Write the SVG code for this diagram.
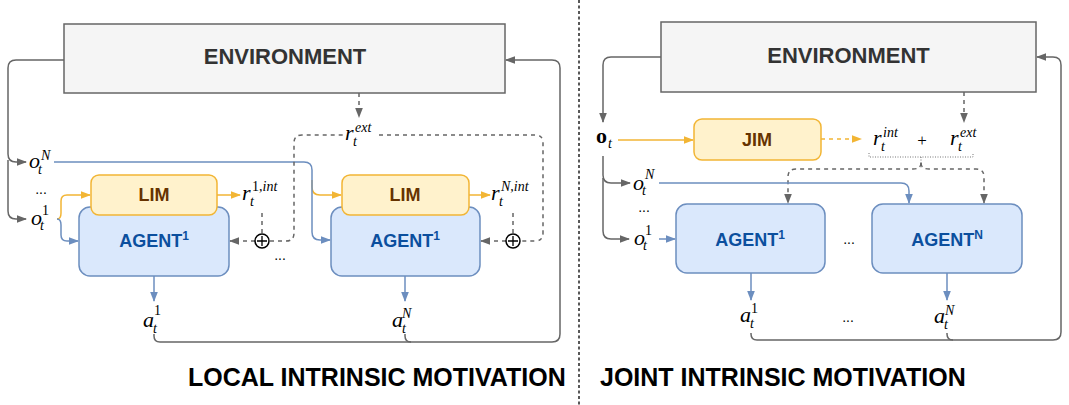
<svg xmlns="http://www.w3.org/2000/svg" width="1069" height="405" viewBox="0 0 1069 405">
<style>
.env{fill:#f5f5f5;stroke:#666;stroke-width:1.5}
.lim{fill:#fff2cc;stroke:#f2b534;stroke-width:1.5}
.ag{fill:#dae8fc;stroke:#6c8ebf;stroke-width:1.5}
.envt{font-family:"Liberation Sans",Arial,sans-serif;font-weight:bold;font-size:22px;fill:#333;text-anchor:middle}
.limt{font-family:"Liberation Sans",Arial,sans-serif;font-weight:bold;font-size:18px;fill:#663300;text-anchor:middle}
.agt{font-family:"Liberation Sans",Arial,sans-serif;font-weight:bold;font-size:18px;fill:#0b4f9e;text-anchor:middle}
.title{font-family:"Liberation Sans",Arial,sans-serif;font-weight:bold;font-size:25px;fill:#000}
.mi{font-family:"Liberation Serif","Times New Roman",serif;font-style:italic;font-size:22px;fill:#000}
.ms{font-family:"Liberation Serif","Times New Roman",serif;font-style:italic;font-size:14px;fill:#000}
.mu{font-family:"Liberation Serif","Times New Roman",serif;font-size:14px;fill:#000}
.dots{font-family:"Liberation Sans",Arial,sans-serif;font-size:14px;fill:#000;text-anchor:middle}
.g{fill:none;stroke:#666;stroke-width:1.5}
.gd{fill:none;stroke:#666;stroke-width:1.5;stroke-dasharray:4 4}
.b{fill:none;stroke:#6c8ebf;stroke-width:1.5}
.o{fill:none;stroke:#f2b534;stroke-width:1.5}
.od{fill:none;stroke:#f2b534;stroke-width:1.5;stroke-dasharray:4 4}
.dot{fill:none;stroke:#777;stroke-width:1;stroke-dasharray:1 1.5}
</style>
<defs>
<marker id="mg" viewBox="0 0 10 10" refX="9" refY="5" markerWidth="10" markerHeight="10" markerUnits="userSpaceOnUse" orient="auto"><path d="M0,1.2L10,5L0,8.8z" fill="#666"/></marker>
<marker id="mb" viewBox="0 0 10 10" refX="9" refY="5" markerWidth="10" markerHeight="10" markerUnits="userSpaceOnUse" orient="auto"><path d="M0,1.2L10,5L0,8.8z" fill="#6c8ebf"/></marker>
<marker id="mo" viewBox="0 0 10 10" refX="9" refY="5" markerWidth="10" markerHeight="10" markerUnits="userSpaceOnUse" orient="auto"><path d="M0,1.2L10,5L0,8.8z" fill="#f2b534"/></marker>
</defs>
<rect width="1069" height="405" fill="#fff"/>

<g id="connectors">
<!-- left panel -->
<path class="g" d="M64,60 H16 Q8,60 8,68 V154 Q8,162 16,162 H26" marker-end="url(#mg)"/>
<path class="g" d="M8,160 V211 Q8,219 16,219 H26" marker-end="url(#mg)"/>
<path class="o" d="M312,180 V187 Q312,195 320,195 H341" marker-end="url(#mo)"/>
<path class="b" d="M54,162 H304 Q312,162 312,170 V232 Q312,240 320,240 H330" marker-end="url(#mb)"/>
<path class="o" d="M57,219 Q61,219 61,213 V201 Q61,195 67,195 H90" marker-end="url(#mo)"/>
<path class="b" d="M57,219 Q61,219 61,225 V235 Q61,241 67,241 H78" marker-end="url(#mb)"/>
<path class="o" d="M217,195 H240" marker-end="url(#mo)"/>
<path class="o" d="M469,195 H490" marker-end="url(#mo)"/>
<path class="b" d="M154,276 V301" marker-end="url(#mb)"/>
<path class="b" d="M405,276 V301" marker-end="url(#mb)"/>
<path class="g" d="M154,334 V336 Q154,342 160,342 H552 Q560,342 560,334 V68 Q560,60 552,60 H506" marker-end="url(#mg)"/>
<path class="g" d="M405,334 V336 Q405,342 411,342"/>
<path class="gd" d="M359,93 V117" marker-end="url(#mg)"/>
<path class="gd" d="M262,213 V234"/>
<path class="gd" d="M513,213 V234"/>
<path class="gd" d="M255,241 H230" marker-end="url(#mg)"/>
<path class="gd" d="M506,241 H481" marker-end="url(#mg)"/>
<path class="gd" d="M270,241 H286 Q294,241 294,233 V143 Q294,135 302,135 H343"/>
<path class="gd" d="M379,135 H535 Q543,135 543,143 V233 Q543,241 535,241 H520"/>
<!-- right panel -->
<path class="g" d="M661,57 H611 Q603,57 603,65 V122" marker-end="url(#mg)"/>
<path class="g" d="M603,156 V175 Q603,183 611,183 H630" marker-end="url(#mg)"/>
<path class="g" d="M603,178 V231 Q603,239 611,239 H629" marker-end="url(#mg)"/>
<path class="o" d="M618,140 H693" marker-end="url(#mo)"/>
<path class="od" d="M821,139 H861" marker-end="url(#mo)"/>
<path class="gd" d="M964,92 V122" marker-end="url(#mg)"/>
<path class="dot" d="M869,153 V157 H973 V153 M921,157 V163"/>
<path class="gd" d="M921,163 Q921,169 913,169 H796 Q788,169 788,177 V203" marker-end="url(#mg)"/>
<path class="gd" d="M921,163 Q921,169 929,169 H976 Q984,169 984,177 V203" marker-end="url(#mg)"/>
<path class="b" d="M659,183 H901 Q909,183 909,191 V203" marker-end="url(#mb)"/>
<path class="b" d="M659,239 H675" marker-end="url(#mb)"/>
<path class="b" d="M751,273 V300" marker-end="url(#mb)"/>
<path class="b" d="M947,273 V300" marker-end="url(#mb)"/>
<path class="g" d="M751,333 V334 Q751,340 757,340 H1053 Q1061,340 1061,332 V65 Q1061,57 1053,57 H1037" marker-end="url(#mg)"/>
<path class="g" d="M947,333 V334 Q947,340 953,340"/>
</g>

<!-- divider -->
<path d="M579,0 V405" stroke="#222" stroke-width="1.5" stroke-dasharray="3 2.5" fill="none"/>

<!-- LEFT PANEL NODES -->
<g id="env-left"><rect class="env" x="64" y="24" width="441" height="69"/><text class="envt" x="285" y="64">ENVIRONMENT</text></g>
<g id="agent1-left"><rect class="ag" x="79" y="207" width="150" height="69" rx="11"/><text class="agt" x="154" y="247">AGENT<tspan font-size="12" dy="-7">1</tspan></text></g>
<g id="lim1"><rect class="lim" x="91" y="175" width="126" height="40" rx="8"/><text class="limt" x="154" y="201">LIM</text></g>
<g id="agent2-left"><rect class="ag" x="331" y="207" width="149" height="69" rx="11"/><text class="agt" x="405" y="247">AGENT<tspan font-size="12" dy="-7">1</tspan></text></g>
<g id="lim2"><rect class="lim" x="342" y="175" width="127" height="40" rx="8"/><text class="limt" x="405" y="201">LIM</text></g>
<g id="sum1"><circle cx="262" cy="241" r="7" fill="#fff" stroke="#000" stroke-width="1.5"/><path d="M257,241H267M262,236V246" stroke="#000" stroke-width="1.3"/></g>
<g id="sum2"><circle cx="513" cy="241" r="7" fill="#fff" stroke="#000" stroke-width="1.5"/><path d="M508,241H518M513,236V246" stroke="#000" stroke-width="1.3"/></g>

<g id="labels-left">
<text class="mi" x="29" y="168">o</text><text class="ms" x="38" y="174">t</text><text class="ms" x="41" y="160">N</text>
<text class="dots" x="41" y="194">...</text>
<text class="mi" x="31" y="225">o</text><text class="ms" x="40" y="230">t</text><text class="mu" x="42" y="215">1</text>
<text class="mi" x="242" y="200">r</text><text class="ms" x="250" y="206">t</text><text class="mu" x="252" y="191">1,<tspan font-style="italic">int</tspan></text>
<text class="mi" x="345" y="140">r</text><text class="ms" x="353" y="146">t</text><text class="ms" x="355" y="132">ext</text>
<text class="mi" x="491" y="200">r</text><text class="ms" x="499" y="206">t</text><text class="ms" x="501" y="191">N,int</text>
<text class="dots" x="280" y="260">...</text>
<text class="mi" x="143" y="327">a</text><text class="ms" x="153" y="333">t</text><text class="mu" x="154" y="315">1</text>
<text class="mi" x="392" y="327">a</text><text class="ms" x="402" y="333">t</text><text class="ms" x="402" y="318">N</text>
</g>
<text class="title" x="188" y="386">LOCAL INTRINSIC MOTIVATION</text>

<!-- RIGHT PANEL NODES -->
<g id="env-right"><rect class="env" x="661" y="22" width="375" height="70"/><text class="envt" x="848.5" y="63">ENVIRONMENT</text></g>
<g id="jim"><rect class="lim" x="694" y="119" width="127" height="41" rx="8"/><text class="limt" x="757" y="146">JIM</text></g>
<g id="agent1-right"><rect class="ag" x="676" y="204" width="149" height="69" rx="11"/><text class="agt" x="750" y="246">AGENT<tspan font-size="12" dy="-7">1</tspan></text></g>
<g id="agentN-right"><rect class="ag" x="872" y="204" width="150" height="69" rx="11"/><text class="agt" x="947" y="246">AGENT<tspan font-size="12" dy="-7">N</tspan></text></g>

<g id="labels-right">
<text x="596" y="143" font-family="Liberation Serif,serif" font-weight="bold" font-size="22">o</text><text class="ms" x="608" y="148">t</text>
<text class="mi" x="633" y="190">o</text><text class="ms" x="642" y="195">t</text><text class="ms" x="645" y="179">N</text>
<text class="dots" x="644" y="212">...</text>
<text class="mi" x="634" y="245">o</text><text class="ms" x="643" y="250">t</text><text class="mu" x="645" y="235">1</text>
<text class="mi" x="873" y="145">r</text><text class="ms" x="881" y="151">t</text><text class="ms" x="883" y="137">int</text>
<text x="922" y="146" font-family="Liberation Serif,serif" font-size="17" text-anchor="middle">+</text>
<text class="mi" x="950" y="145">r</text><text class="ms" x="958" y="151">t</text><text class="ms" x="960" y="137">ext</text>
<text class="dots" x="849" y="244">...</text>
<text class="mi" x="740" y="322">a</text><text class="ms" x="750" y="328">t</text><text class="mu" x="751" y="313">1</text>
<text class="dots" x="848" y="322">...</text>
<text class="mi" x="934" y="323">a</text><text class="ms" x="944" y="329">t</text><text class="ms" x="945" y="315">N</text>
</g>
<text class="title" x="600" y="386">JOINT INTRINSIC MOTIVATION</text>
</svg>
